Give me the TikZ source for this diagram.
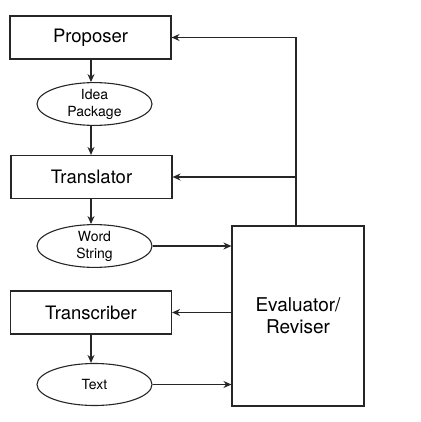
\documentclass[tikz,border=0pt]{standalone}
\usepackage{fontspec}
\setmainfont{TeX Gyre Heros}
\usetikzlibrary{shapes.geometric,arrows.meta}
\begin{document}
\begin{tikzpicture}[x=1pt,y=-1pt,
  line width=1.1pt, draw=black!85,
  boxnode/.style={draw, rectangle, minimum width=161pt, minimum height=43pt, inner sep=0pt, font=\fontsize{18.5}{20}\selectfont},
  ellnode/.style={draw, ellipse, minimum width=115pt, minimum height=42pt, inner sep=0pt, align=center, font=\fontsize{14}{17}\selectfont},
  evalnode/.style={draw, rectangle, minimum width=132pt, minimum height=180pt, inner sep=0pt, align=center, font=\fontsize{19}{22}\selectfont},
  arr/.style={-{Stealth[length=8pt,width=7pt]}}]
\useasboundingbox (0,0) rectangle (420,422);
\node[boxnode] (prop) at (90.5,37.5) {Proposer};
\node[ellnode] (idea) at (94.5,104) {Idea\\Package};
\node[boxnode] (trans) at (91.5,177) {Translator};
\node[ellnode] (word) at (94.5,246) {Word\\String};
\node[boxnode] (transc) at (91,312.5) {Transcriber};
\node[ellnode] (text) at (94.5,384.5) {Text};
\node[evalnode] (eval) at (298,316) {Evaluator/\\Reviser};
\coordinate (topc) at (296,37.5);
\coordinate (midc) at (296,177);
\draw[arr] (prop.south -| 91,0) -- (idea.north -| 91,0);
\draw[arr] (idea.south -| 91,0) -- (trans.north -| 91,0);
\draw[arr] (trans.south -| 91,0) -- (word.north -| 91,0);
\draw[arr] (transc.south -| 91,0) -- (text.north -| 91,0);
\draw (eval.north -| topc) -- (topc);
\draw[arr] (topc) -- (prop.east);
\draw[arr] (midc) -- (trans.east);
\draw[arr] (word.east) -- (word.east -| eval.west);
\draw[arr] (eval.west |- transc.east) -- (transc.east);
\draw[arr] (text.east) -- (text.east -| eval.west);
\end{tikzpicture}
\end{document}
